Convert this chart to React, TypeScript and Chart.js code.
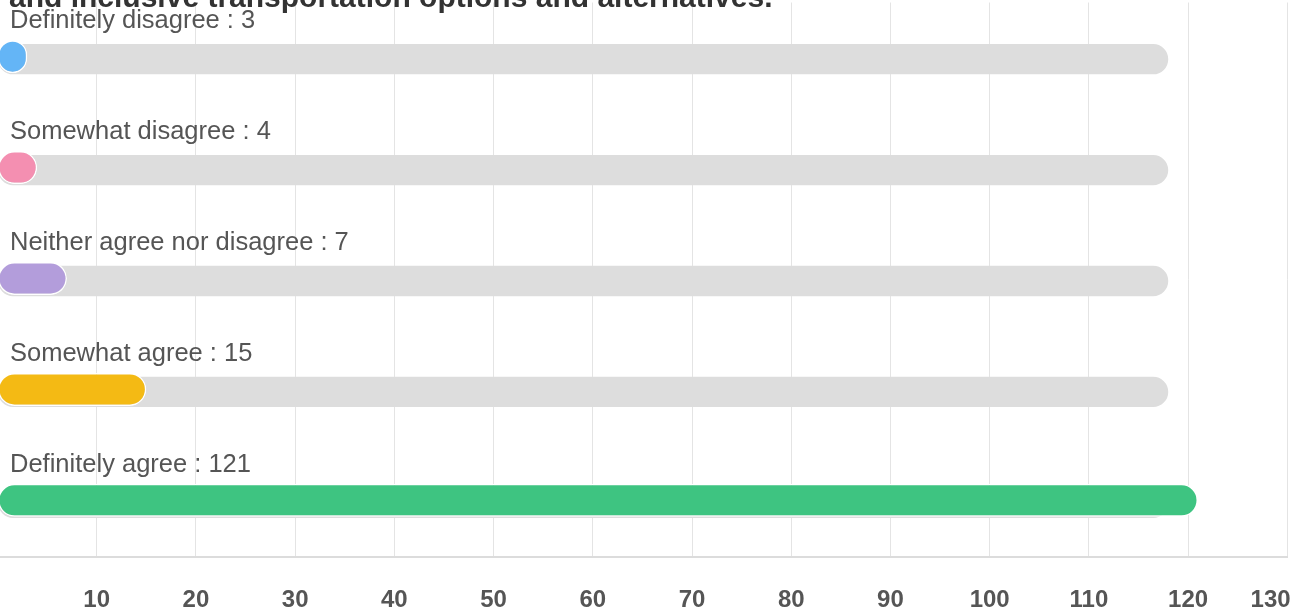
import React, { useEffect, useRef } from 'react';
import { Chart, registerables } from 'chart.js';

Chart.register(...registerables);

const FONT = '"Liberation Sans", Arial, Helvetica, sans-serif';

const titleText = 'and inclusive transportation options and alternatives.';
const categories = [
  'Definitely disagree',
  'Somewhat disagree',
  'Neither agree nor disagree',
  'Somewhat agree',
  'Definitely agree',
];
const responses = [3, 4, 7, 15, 121];
const trackValues = [118, 118, 118, 118, 118];
const barColors = ['#64B5F6', '#F48FB1', '#B39DDB', '#F4BA14', '#3EC481'];
const axisMin = 0;
const axisMax = 130;
const axisStep = 10;

const rowLabelPlugin = {
  id: 'rowLabels',
  afterDatasetsDraw(chart: any) {
    const meta = chart.getDatasetMeta(0);
    const ctx = chart.ctx;
    ctx.save();
    ctx.font = `25.5px ${FONT}`;
    ctx.fillStyle = '#555555';
    ctx.textAlign = 'left';
    ctx.textBaseline = 'alphabetic';
    meta.data.forEach((bar: any, i: number) => {
      ctx.fillText(`${categories[i]} : ${responses[i]}`, chart.chartArea.left + 12.5, bar.y - 28.2);
    });
    ctx.restore();
  },
};

export default function App() {
  const canvasRef = useRef<HTMLCanvasElement | null>(null);

  useEffect(() => {
    if (!canvasRef.current) return;
    const chart = new Chart(canvasRef.current, {
      type: 'bar',
      data: {
        labels: categories,
        datasets: [
          {
            data: responses,
            backgroundColor: barColors,
            borderColor: '#ffffff',
            borderWidth: 1.5,
            borderSkipped: false,
            borderRadius: 20,
            categoryPercentage: 0.0451,
            barPercentage: 13.2,
          },
          {
            data: trackValues,
            backgroundColor: '#DDDDDD',
            borderWidth: 0,
            borderSkipped: false,
            borderRadius: 20,
            categoryPercentage: 0.0451,
            barPercentage: 12.1,
          },
        ],
      },
      options: {
        indexAxis: 'y',
        animation: false,
        responsive: true,
        maintainAspectRatio: false,
        layout: { padding: { left: 30.5, right: 68.7, top: 2.5, bottom: 16.2 } },
        plugins: {
          legend: { display: false },
          tooltip: { enabled: false },
          title: { display: false },
        },
        scales: {
          x: {
            min: axisMin,
            max: axisMax,
            ticks: {
              stepSize: axisStep,
              autoSkip: false,
              maxRotation: 0,
              padding: 29,
              color: '#555555',
              font: { size: 24, weight: 'bold', family: FONT },
              callback: (v: any) => (v === 0 ? '' : v === axisMax ? `${v}     ` : String(v)),
            },
            grid: { color: '#e4e4e4', lineWidth: 1, drawTicks: false },
            border: { display: true, color: '#dcdcdc', width: 2 },
          },
          y: { display: false },
        },
      },
      plugins: [rowLabelPlugin],
    } as any);
    return () => chart.destroy();
  }, []);

  return (
    <div
      style={{
        position: 'fixed',
        left: 0,
        top: 0,
        width: 1305,
        height: 615,
        overflow: 'hidden',
        background: '#ffffff',
      }}
    >
      <div style={{ position: 'absolute', left: -33, top: 0, width: 1389, height: 660 }}>
        <canvas ref={canvasRef} />
      </div>
      <div
        style={{
          position: 'absolute',
          left: 9,
          top: -18.4,
          font: `bold 30px ${FONT}`,
          lineHeight: '30px',
          color: '#333333',
          whiteSpace: 'nowrap',
          zIndex: 2,
        }}
      >
        {titleText}
      </div>
    </div>
  );
}
